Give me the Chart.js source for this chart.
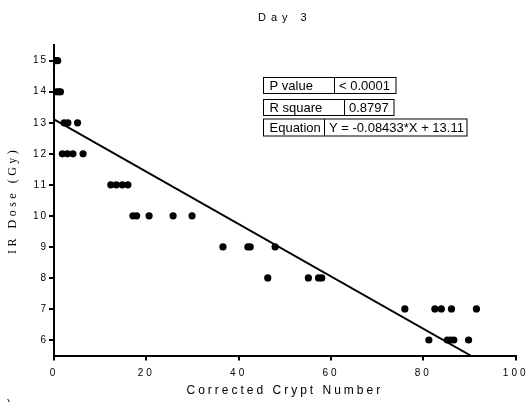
<!DOCTYPE html>
<html>
<head>
<meta charset="utf-8">
<script src="https://cdn.jsdelivr.net/npm/chart.js@4/dist/chart.umd.min.js"></script>
<style>
  html, body { margin: 0; padding: 0; background: #fff; }
  canvas { display: block; }
</style>
</head>
<body>
<canvas id="dayCanvas" width="531" height="402"></canvas>
<script>
// crypt counts (x) and matching IR dose (y) for each mouse
const crypt = [0.3, 0.8,
               0.5, 1.0, 1.4,
               2.2, 3.0, 5.1,
               1.8, 2.9, 4.1, 6.3,
               12.3, 13.5, 14.8, 16.0,
               17.1, 17.9, 20.6, 25.8, 29.9,
               36.6, 42.0, 42.5, 47.9,
               46.3, 55.1, 57.3, 58.0,
               76.0, 82.5, 83.9, 86.1, 91.5,
               81.2, 85.2, 85.9, 86.6, 89.8];
const dose = [15, 15,
              14, 14, 14,
              13, 13, 13,
              12, 12, 12, 12,
              11, 11, 11, 11,
              10, 10, 10, 10, 10,
              9, 9, 9, 9,
              8, 8, 8, 8,
              7, 7, 7, 7, 7,
              6, 6, 6, 6, 6];
const doseTicks = [6, 7, 8, 9, 10, 11, 12, 13, 14, 15];

// linear fit
const slope = -0.08433;
const intercept = 13.11;
const fitLabels = ["P value", "R square", "Equation"];
const fitValues = ["< 0.0001", "0.8797", "Y = -0.08433*X + 13.11"];

const yMin = 5.5;
const fitLine = [
    { x: 0, y: intercept },
    { x: (yMin - intercept) / slope, y: yMin }
];

// letter spacing for one draw method of a chart element
function spaced(obj, method, spacing) {
    if (!obj || obj["_sp_" + method]) return;
    const orig = obj[method];
    obj[method] = function (...args) {
        const ctx = this.ctx;
        const prev = ctx.letterSpacing;
        ctx.letterSpacing = spacing;
        const r = orig.apply(this, args);
        ctx.letterSpacing = prev;
        return r;
    };
    obj["_sp_" + method] = true;
}

const spacingPlugin = {
    id: "spacing",
    afterUpdate(chart) {
        spaced(chart.titleBlock, "draw", "5px");
        spaced(chart.scales.x, "drawLabels", "3px");
        spaced(chart.scales.x, "drawTitle", "3px");
        spaced(chart.scales.y, "drawLabels", "2px");
        spaced(chart.scales.y, "drawTitle", "3.5px");
    }
};

// stats table in the upper right
const tablePlugin = {
    id: "fitTable",
    afterDraw(chart) {
        const ctx = chart.ctx;
        ctx.save();
        ctx.letterSpacing = "0px";
        ctx.strokeStyle = "#000";
        ctx.lineWidth = 1;
        ctx.fillStyle = "#000";
        ctx.font = "13px 'Liberation Sans', Arial, sans-serif";
        ctx.textBaseline = "middle";
        ctx.textAlign = "left";
        const rows = [
            { top: 77, h: 16, split: 334, right: 396 },
            { top: 99, h: 16, split: 344, right: 394 },
            { top: 118.5, h: 17, split: 324, right: 467 }
        ];
        const left = 263.5;
        rows.forEach((r, i) => {
            ctx.strokeRect(left, r.top + 0.5, r.right - left, r.h);
            ctx.beginPath();
            ctx.moveTo(r.split + 0.5, r.top + 0.5);
            ctx.lineTo(r.split + 0.5, r.top + r.h + 0.5);
            ctx.stroke();
            ctx.fillText(fitLabels[i], left + 6, r.top + r.h / 2 + 1);
            ctx.fillText(fitValues[i], r.split + 5, r.top + r.h / 2 + 1);
        });
        ctx.font = "12px 'Liberation Sans', Arial, sans-serif";
        ctx.fillText(")", 7, 405);
        ctx.restore();
    }
};

const dayCanvas = document.getElementById("dayCanvas");
const dayChart = new Chart(dayCanvas, {
    type: "scatter",
    data: {
        datasets: [{
            label: "Day 3",
            data: crypt.map((c, i) => ({ x: c, y: dose[i] })),
            backgroundColor: "#000",
            borderWidth: 0,
            pointRadius: 3.6,
            pointHoverRadius: 3.6
        }, {
            label: "fit",
            type: "line",
            data: fitLine,
            borderColor: "#000",
            borderWidth: 2,
            pointRadius: 0,
            fill: false
        }]
    },
    options: {
        responsive: false,
        animation: false,
        layout: { padding: { top: 0, right: 14, left: 0, bottom: 0 } },
        plugins: {
            legend: { display: false },
            tooltip: { enabled: false },
            title: {
                display: true,
                text: "Day 3",
                fullSize: false,
                color: "#000",
                font: { family: "'Liberation Sans', Arial, sans-serif", size: 11, weight: "normal" },
                padding: { top: 11, bottom: 21 }
            }
        },
        scales: {
            x: {
                type: "linear",
                min: 0,
                max: 100,
                ticks: {
                    stepSize: 20,
                    color: "#000",
                    padding: 7,
                    maxRotation: 0,
                    font: { family: "'Liberation Sans', Arial, sans-serif", size: 10 }
                },
                grid: { display: true, drawOnChartArea: false, color: "#000", lineWidth: 2, tickLength: 5 },
                border: { display: true, color: "#000", width: 2 },
                title: {
                    display: true,
                    text: "Corrected Crypt Number",
                    color: "#000",
                    font: { family: "'Liberation Sans', Arial, sans-serif", size: 12 },
                    padding: { top: 0, bottom: 4 }
                },
                afterFit(scale) { scale.height = 46.5; }
            },
            y: {
                type: "linear",
                min: yMin,
                max: 15.5,
                afterBuildTicks(scale) {
                    scale.ticks = doseTicks.map(v => ({ value: v }));
                },
                ticks: {
                    color: "#000",
                    padding: 1,
                    font: { family: "'Liberation Sans', Arial, sans-serif", size: 10 }
                },
                grid: { display: true, drawOnChartArea: false, color: "#000", lineWidth: 2, tickLength: 5 },
                border: { display: true, color: "#000", width: 2 },
                title: {
                    display: true,
                    text: "IR Dose (Gy)",
                    color: "#000",
                    font: { family: "'Liberation Serif', 'Times New Roman', serif", size: 12 },
                    padding: { top: 6, bottom: 0 }
                },
                afterFit(scale) { scale.width = 54; }
            }
        }
    },
    plugins: [spacingPlugin, tablePlugin]
});
</script>
</body>
</html>
